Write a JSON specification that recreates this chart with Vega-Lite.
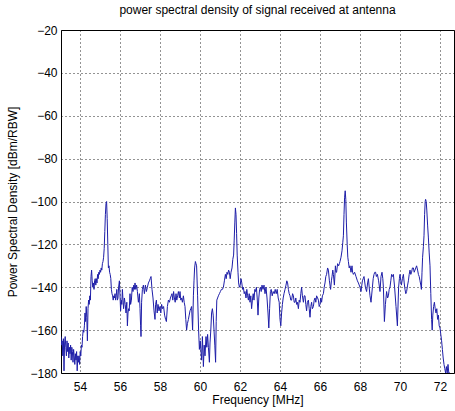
{
  "$schema": "https://vega.github.io/schema/vega-lite/v6.json",
  "autosize": {"type": "none"},
  "padding": {"left": 61, "top": 30, "right": 1, "bottom": 38},
  "width": 393,
  "height": 343,
  "background": "white",
  "title": {"text": "power spectral density of signal received at antenna", "font": "Liberation Sans", "fontSize": 12, "fontWeight": "normal", "color": "#000", "offset": 7, "anchor": "middle"},
  "config": {"view": {"stroke": "#000", "strokeWidth": 1}},
  "data": {"values": [
{"f":53.05,"p":-163},{"f":53.08,"p":-167},{"f":53.11,"p":-165},{"f":53.14,"p":-172},{"f":53.17,"p":-164},{"f":53.2,"p":-179},{"f":53.23,"p":-166},{"f":53.26,"p":-163},{"f":53.29,"p":-168},{"f":53.32,"p":-172},{"f":53.35,"p":-165},{"f":53.38,"p":-170},{"f":53.41,"p":-166},{"f":53.44,"p":-173},{"f":53.47,"p":-168},{"f":53.5,"p":-171},{"f":53.53,"p":-167},{"f":53.56,"p":-174},{"f":53.59,"p":-168},{"f":53.62,"p":-170},{"f":53.65,"p":-175},{"f":53.68,"p":-169},{"f":53.71,"p":-172},{"f":53.74,"p":-176},{"f":53.77,"p":-171},{"f":53.8,"p":-174},{"f":53.83,"p":-170},{"f":53.86,"p":-179},{"f":53.89,"p":-172},{"f":53.92,"p":-175},{"f":53.95,"p":-172},{"f":53.98,"p":-176},{"f":54.01,"p":-170},{"f":54.04,"p":-172},{"f":54.07,"p":-167},{"f":54.1,"p":-168},{"f":54.13,"p":-163},{"f":54.16,"p":-160},{"f":54.19,"p":-161},{"f":54.22,"p":-158},{"f":54.25,"p":-152},{"f":54.28,"p":-156},{"f":54.31,"p":-149},{"f":54.34,"p":-154},{"f":54.37,"p":-165},{"f":54.4,"p":-150},{"f":54.43,"p":-146},{"f":54.46,"p":-148},{"f":54.49,"p":-144},{"f":54.52,"p":-146},{"f":54.55,"p":-135},{"f":54.58,"p":-132},{"f":54.61,"p":-137},{"f":54.64,"p":-140},{"f":54.67,"p":-138},{"f":54.7,"p":-141},{"f":54.73,"p":-137},{"f":54.76,"p":-136},{"f":54.79,"p":-139},{"f":54.82,"p":-136},{"f":54.85,"p":-138},{"f":54.88,"p":-134},{"f":54.91,"p":-136},{"f":54.94,"p":-133},{"f":54.97,"p":-134},{"f":55.0,"p":-132},{"f":55.03,"p":-133},{"f":55.06,"p":-131},{"f":55.09,"p":-132},{"f":55.12,"p":-129},{"f":55.15,"p":-128},{"f":55.18,"p":-126},{"f":55.21,"p":-122},{"f":55.24,"p":-114},{"f":55.27,"p":-106},{"f":55.3,"p":-101},{"f":55.33,"p":-100},{"f":55.36,"p":-108},{"f":55.39,"p":-120},{"f":55.42,"p":-131},{"f":55.45,"p":-130},{"f":55.48,"p":-133},{"f":55.51,"p":-134},{"f":55.54,"p":-136},{"f":55.57,"p":-141},{"f":55.6,"p":-143},{"f":55.63,"p":-144},{"f":55.66,"p":-146},{"f":55.69,"p":-144},{"f":55.72,"p":-145},{"f":55.75,"p":-143},{"f":55.78,"p":-146},{"f":55.81,"p":-144},{"f":55.84,"p":-141},{"f":55.87,"p":-146},{"f":55.9,"p":-145},{"f":55.93,"p":-140},{"f":55.97,"p":-137},{"f":56.0,"p":-144},{"f":56.03,"p":-151},{"f":56.06,"p":-146},{"f":56.09,"p":-148},{"f":56.12,"p":-141},{"f":56.15,"p":-146},{"f":56.18,"p":-150},{"f":56.22,"p":-145},{"f":56.26,"p":-148},{"f":56.3,"p":-152},{"f":56.34,"p":-147},{"f":56.37,"p":-158},{"f":56.4,"p":-152},{"f":56.43,"p":-150},{"f":56.46,"p":-151},{"f":56.5,"p":-143},{"f":56.53,"p":-148},{"f":56.57,"p":-146},{"f":56.61,"p":-140},{"f":56.65,"p":-142},{"f":56.69,"p":-139},{"f":56.72,"p":-141},{"f":56.75,"p":-138},{"f":56.79,"p":-141},{"f":56.83,"p":-139},{"f":56.87,"p":-142},{"f":56.92,"p":-147},{"f":56.97,"p":-143},{"f":57.0,"p":-150},{"f":57.03,"p":-158},{"f":57.05,"p":-163},{"f":57.08,"p":-147},{"f":57.12,"p":-141},{"f":57.17,"p":-139},{"f":57.22,"p":-143},{"f":57.27,"p":-139},{"f":57.32,"p":-142},{"f":57.37,"p":-140},{"f":57.42,"p":-138},{"f":57.47,"p":-137},{"f":57.51,"p":-136},{"f":57.55,"p":-135},{"f":57.6,"p":-141},{"f":57.65,"p":-145},{"f":57.7,"p":-151},{"f":57.75,"p":-155},{"f":57.78,"p":-148},{"f":57.82,"p":-146},{"f":57.86,"p":-152},{"f":57.9,"p":-148},{"f":57.95,"p":-151},{"f":58.0,"p":-149},{"f":58.04,"p":-152},{"f":58.08,"p":-148},{"f":58.13,"p":-150},{"f":58.18,"p":-149},{"f":58.23,"p":-153},{"f":58.28,"p":-155},{"f":58.32,"p":-156},{"f":58.37,"p":-149},{"f":58.42,"p":-146},{"f":58.47,"p":-147},{"f":58.52,"p":-145},{"f":58.56,"p":-144},{"f":58.6,"p":-143},{"f":58.64,"p":-146},{"f":58.68,"p":-142},{"f":58.72,"p":-145},{"f":58.76,"p":-147},{"f":58.8,"p":-143},{"f":58.84,"p":-146},{"f":58.88,"p":-144},{"f":58.92,"p":-142},{"f":58.97,"p":-145},{"f":59.0,"p":-142},{"f":59.04,"p":-146},{"f":59.08,"p":-145},{"f":59.12,"p":-147},{"f":59.17,"p":-144},{"f":59.21,"p":-147},{"f":59.25,"p":-149},{"f":59.29,"p":-155},{"f":59.33,"p":-160},{"f":59.37,"p":-157},{"f":59.42,"p":-155},{"f":59.46,"p":-153},{"f":59.5,"p":-151},{"f":59.54,"p":-150},{"f":59.58,"p":-149},{"f":59.63,"p":-160},{"f":59.67,"p":-144},{"f":59.7,"p":-137},{"f":59.73,"p":-131},{"f":59.77,"p":-128},{"f":59.8,"p":-129},{"f":59.83,"p":-130},{"f":59.88,"p":-144},{"f":59.93,"p":-160},{"f":59.97,"p":-169},{"f":60.01,"p":-165},{"f":60.05,"p":-170},{"f":60.08,"p":-174},{"f":60.12,"p":-163},{"f":60.17,"p":-177},{"f":60.21,"p":-167},{"f":60.25,"p":-172},{"f":60.3,"p":-163},{"f":60.34,"p":-168},{"f":60.38,"p":-162},{"f":60.42,"p":-168},{"f":60.47,"p":-175},{"f":60.5,"p":-166},{"f":60.54,"p":-160},{"f":60.58,"p":-152},{"f":60.62,"p":-150},{"f":60.66,"p":-153},{"f":60.7,"p":-160},{"f":60.74,"p":-167},{"f":60.78,"p":-175},{"f":60.81,"p":-156},{"f":60.84,"p":-146},{"f":60.88,"p":-145},{"f":60.92,"p":-144},{"f":60.97,"p":-143},{"f":61.02,"p":-142},{"f":61.07,"p":-141},{"f":61.12,"p":-141},{"f":61.17,"p":-140},{"f":61.22,"p":-137},{"f":61.27,"p":-134},{"f":61.31,"p":-136},{"f":61.35,"p":-133},{"f":61.39,"p":-134},{"f":61.43,"p":-132},{"f":61.47,"p":-133},{"f":61.51,"p":-136},{"f":61.55,"p":-133},{"f":61.6,"p":-131},{"f":61.64,"p":-127},{"f":61.68,"p":-125},{"f":61.71,"p":-118},{"f":61.74,"p":-110},{"f":61.77,"p":-103},{"f":61.8,"p":-106},{"f":61.83,"p":-115},{"f":61.86,"p":-125},{"f":61.9,"p":-133},{"f":61.93,"p":-138},{"f":61.97,"p":-140},{"f":62.01,"p":-139},{"f":62.05,"p":-136},{"f":62.09,"p":-138},{"f":62.13,"p":-141},{"f":62.17,"p":-140},{"f":62.21,"p":-143},{"f":62.25,"p":-142},{"f":62.3,"p":-145},{"f":62.34,"p":-141},{"f":62.38,"p":-144},{"f":62.42,"p":-146},{"f":62.46,"p":-143},{"f":62.5,"p":-147},{"f":62.54,"p":-144},{"f":62.58,"p":-150},{"f":62.62,"p":-146},{"f":62.66,"p":-143},{"f":62.7,"p":-146},{"f":62.74,"p":-141},{"f":62.78,"p":-142},{"f":62.82,"p":-140},{"f":62.86,"p":-145},{"f":62.9,"p":-153},{"f":62.94,"p":-145},{"f":62.98,"p":-141},{"f":63.02,"p":-140},{"f":63.06,"p":-142},{"f":63.1,"p":-139},{"f":63.15,"p":-141},{"f":63.2,"p":-139},{"f":63.25,"p":-143},{"f":63.3,"p":-140},{"f":63.35,"p":-145},{"f":63.4,"p":-152},{"f":63.44,"p":-159},{"f":63.48,"p":-150},{"f":63.52,"p":-142},{"f":63.56,"p":-141},{"f":63.61,"p":-144},{"f":63.66,"p":-142},{"f":63.71,"p":-143},{"f":63.76,"p":-141},{"f":63.81,"p":-143},{"f":63.86,"p":-141},{"f":63.91,"p":-145},{"f":63.96,"p":-147},{"f":64.0,"p":-155},{"f":64.04,"p":-158},{"f":64.08,"p":-152},{"f":64.12,"p":-148},{"f":64.16,"p":-145},{"f":64.2,"p":-143},{"f":64.25,"p":-141},{"f":64.3,"p":-139},{"f":64.34,"p":-137},{"f":64.38,"p":-138},{"f":64.42,"p":-141},{"f":64.46,"p":-143},{"f":64.5,"p":-144},{"f":64.54,"p":-146},{"f":64.58,"p":-146},{"f":64.63,"p":-143},{"f":64.67,"p":-144},{"f":64.71,"p":-147},{"f":64.75,"p":-147},{"f":64.79,"p":-145},{"f":64.83,"p":-148},{"f":64.87,"p":-147},{"f":64.92,"p":-150},{"f":64.96,"p":-146},{"f":65.0,"p":-147},{"f":65.04,"p":-143},{"f":65.08,"p":-140},{"f":65.12,"p":-144},{"f":65.17,"p":-147},{"f":65.21,"p":-144},{"f":65.25,"p":-144},{"f":65.29,"p":-148},{"f":65.33,"p":-151},{"f":65.37,"p":-147},{"f":65.42,"p":-146},{"f":65.46,"p":-150},{"f":65.5,"p":-154},{"f":65.54,"p":-149},{"f":65.58,"p":-147},{"f":65.62,"p":-150},{"f":65.67,"p":-149},{"f":65.71,"p":-146},{"f":65.75,"p":-145},{"f":65.79,"p":-147},{"f":65.83,"p":-144},{"f":65.88,"p":-145},{"f":65.92,"p":-146},{"f":65.96,"p":-149},{"f":66.0,"p":-148},{"f":66.04,"p":-145},{"f":66.08,"p":-147},{"f":66.12,"p":-144},{"f":66.17,"p":-143},{"f":66.21,"p":-140},{"f":66.25,"p":-138},{"f":66.29,"p":-135},{"f":66.33,"p":-134},{"f":66.38,"p":-131},{"f":66.42,"p":-132},{"f":66.47,"p":-137},{"f":66.53,"p":-141},{"f":66.57,"p":-137},{"f":66.6,"p":-135},{"f":66.64,"p":-132},{"f":66.67,"p":-134},{"f":66.72,"p":-139},{"f":66.77,"p":-130},{"f":66.8,"p":-133},{"f":66.83,"p":-133},{"f":66.88,"p":-129},{"f":66.93,"p":-130},{"f":66.97,"p":-129},{"f":67.0,"p":-128},{"f":67.05,"p":-126},{"f":67.1,"p":-123},{"f":67.14,"p":-119},{"f":67.17,"p":-116},{"f":67.2,"p":-106},{"f":67.23,"p":-98},{"f":67.26,"p":-95},{"f":67.29,"p":-99},{"f":67.32,"p":-110},{"f":67.36,"p":-120},{"f":67.39,"p":-126},{"f":67.42,"p":-128},{"f":67.46,"p":-131},{"f":67.5,"p":-130},{"f":67.55,"p":-133},{"f":67.6,"p":-130},{"f":67.63,"p":-133},{"f":67.67,"p":-134},{"f":67.73,"p":-133},{"f":67.8,"p":-135},{"f":67.87,"p":-137},{"f":67.92,"p":-138},{"f":68.0,"p":-140},{"f":68.05,"p":-142},{"f":68.09,"p":-139},{"f":68.12,"p":-137},{"f":68.16,"p":-136},{"f":68.2,"p":-135},{"f":68.27,"p":-140},{"f":68.33,"p":-142},{"f":68.38,"p":-138},{"f":68.42,"p":-136},{"f":68.46,"p":-140},{"f":68.5,"p":-144},{"f":68.55,"p":-147},{"f":68.62,"p":-140},{"f":68.66,"p":-136},{"f":68.7,"p":-134},{"f":68.74,"p":-133},{"f":68.78,"p":-133},{"f":68.82,"p":-135},{"f":68.87,"p":-134},{"f":68.93,"p":-137},{"f":69.0,"p":-142},{"f":69.05,"p":-135},{"f":69.1,"p":-133},{"f":69.14,"p":-136},{"f":69.17,"p":-140},{"f":69.22,"p":-156},{"f":69.27,"p":-148},{"f":69.33,"p":-142},{"f":69.38,"p":-145},{"f":69.42,"p":-144},{"f":69.46,"p":-141},{"f":69.5,"p":-140},{"f":69.54,"p":-137},{"f":69.58,"p":-134},{"f":69.62,"p":-135},{"f":69.67,"p":-134},{"f":69.73,"p":-140},{"f":69.8,"p":-149},{"f":69.87,"p":-158},{"f":69.93,"p":-140},{"f":69.97,"p":-136},{"f":70.0,"p":-134},{"f":70.04,"p":-137},{"f":70.07,"p":-139},{"f":70.12,"p":-136},{"f":70.17,"p":-134},{"f":70.21,"p":-138},{"f":70.25,"p":-141},{"f":70.29,"p":-143},{"f":70.33,"p":-142},{"f":70.38,"p":-139},{"f":70.42,"p":-137},{"f":70.46,"p":-134},{"f":70.5,"p":-132},{"f":70.54,"p":-134},{"f":70.58,"p":-133},{"f":70.62,"p":-131},{"f":70.67,"p":-131},{"f":70.71,"p":-133},{"f":70.75,"p":-132},{"f":70.79,"p":-131},{"f":70.83,"p":-130},{"f":70.88,"p":-132},{"f":70.92,"p":-134},{"f":70.96,"p":-135},{"f":71.0,"p":-137},{"f":71.04,"p":-139},{"f":71.07,"p":-141},{"f":71.1,"p":-133},{"f":71.13,"p":-126},{"f":71.17,"p":-121},{"f":71.2,"p":-116},{"f":71.23,"p":-106},{"f":71.26,"p":-100},{"f":71.28,"p":-99},{"f":71.31,"p":-100},{"f":71.34,"p":-104},{"f":71.38,"p":-111},{"f":71.42,"p":-117},{"f":71.46,"p":-124},{"f":71.5,"p":-130},{"f":71.54,"p":-143},{"f":71.58,"p":-155},{"f":71.61,"p":-160},{"f":71.64,"p":-153},{"f":71.68,"p":-149},{"f":71.72,"p":-147},{"f":71.76,"p":-150},{"f":71.8,"p":-152},{"f":71.84,"p":-150},{"f":71.88,"p":-155},{"f":71.92,"p":-153},{"f":71.96,"p":-158},{"f":72.0,"p":-159},{"f":72.04,"p":-162},{"f":72.08,"p":-165},{"f":72.12,"p":-169},{"f":72.16,"p":-173},{"f":72.2,"p":-176},{"f":72.24,"p":-178},{"f":72.28,"p":-180},{"f":72.32,"p":-177},{"f":72.36,"p":-180},{"f":72.4,"p":-176},{"f":72.44,"p":-180},{"f":72.5,"p":-180}
  ]},
  "mark": {"type": "line", "color": "#1e1ea8", "strokeWidth": 1, "clip": true},
  "encoding": {
    "x": {"field": "f", "type": "quantitative",
      "scale": {"domain": [53.05, 72.7], "nice": false, "zero": false},
      "axis": {"title": "Frequency [MHz]", "values": [54,56,58,60,62,64,66,68,70,72],
        "grid": true, "gridColor": "#000", "gridDash": [1,3], "gridOpacity": 0.85, "gridWidth": 1,
        "domain": false, "ticks": false, "labelPadding": 8,
        "labelFont": "Liberation Sans", "labelFontSize": 12, "labelColor": "#000",
        "titleFont": "Liberation Sans", "titleFontSize": 12, "titleFontWeight": "normal", "titleColor": "#000",
        "titleX": 196.5, "titleY": 26, "titleBaseline": "middle"}},
    "y": {"field": "p", "type": "quantitative",
      "scale": {"domain": [-180, -20], "nice": false, "zero": false},
      "axis": {"title": "Power Spectral Density [dBm/RBW]", "values": [-180,-160,-140,-120,-100,-80,-60,-40,-20],
        "grid": true, "gridColor": "#000", "gridDash": [1,3], "gridOpacity": 0.85, "gridWidth": 1,
        "domain": false, "ticks": false, "labelPadding": 4,
        "labelFont": "Liberation Sans", "labelFontSize": 12, "labelColor": "#000",
        "titleFont": "Liberation Sans", "titleFontSize": 12, "titleFontWeight": "normal", "titleColor": "#000",
        "titleX": -49, "titleY": 171.5, "titleBaseline": "middle"}}
  }
}
